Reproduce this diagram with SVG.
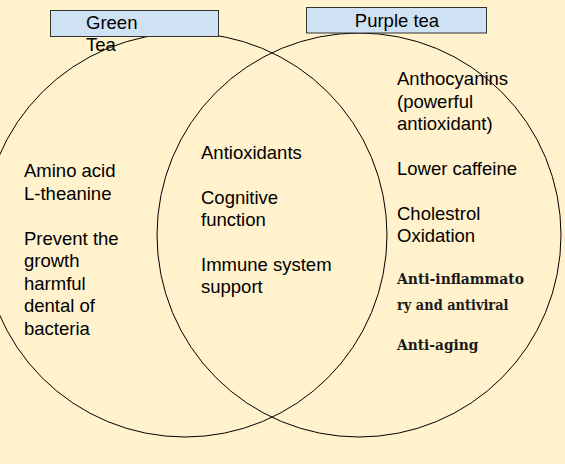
<svg xmlns="http://www.w3.org/2000/svg" width="565" height="468" viewBox="0 0 565 468">
<style>
.t{font-family:"Liberation Sans",Arial,sans-serif;font-size:18.5px;fill:#000}
.b{font-family:"DejaVu Serif","Liberation Serif",serif;font-size:14.5px;font-weight:bold;fill:#1a1a1a}
.c{fill:none;stroke:#000;stroke-width:1}
.box{fill:#cfe2f3;stroke:#333;stroke-width:1}
</style>
<rect x="0" y="0" width="565" height="468" fill="#ffffff"/>
<rect x="0" y="0" width="565" height="464" fill="#fff2cc"/>
<g id="connectors"></g>
<g id="green-circle"><circle class="c" cx="185" cy="235" r="202"/></g>
<g id="purple-circle"><circle class="c" cx="359" cy="235" r="202"/></g>
<g id="green-label">
<rect class="box" x="50.5" y="10.5" width="168" height="26"/>
<text class="t" x="86" y="29">Green</text>
<text class="t" x="86" y="51">Tea</text>
</g>
<g id="purple-label">
<rect class="box" x="306.5" y="7.5" width="180" height="25.5"/>
<text class="t" x="397" y="27" text-anchor="middle">Purple tea</text>
</g>
<g id="green-only">
<text class="t" x="24" y="177">Amino acid</text>
<text class="t" x="24" y="200">L-theanine</text>
<text class="t" x="24" y="245">Prevent the</text>
<text class="t" x="24" y="267">growth</text>
<text class="t" x="24" y="289.5">harmful</text>
<text class="t" x="24" y="312">dental of</text>
<text class="t" x="24" y="335">bacteria</text>
</g>
<g id="both">
<text class="t" x="201" y="158.5">Antioxidants</text>
<text class="t" x="201" y="203.5">Cognitive</text>
<text class="t" x="201" y="226">function</text>
<text class="t" x="201" y="271">Immune system</text>
<text class="t" x="201" y="293">support</text>
</g>
<g id="purple-only">
<text class="t" x="397" y="85">Anthocyanins</text>
<text class="t" x="397" y="107.5">(powerful</text>
<text class="t" x="397" y="130">antioxidant)</text>
<text class="t" x="397" y="175">Lower caffeine</text>
<text class="t" x="397" y="220">Cholestrol</text>
<text class="t" x="397" y="242">Oxidation</text>
<text class="b" x="397" y="283.5" textLength="127" lengthAdjust="spacingAndGlyphs">Anti-inflammato</text>
<text class="b" x="397" y="309.5" textLength="111.5" lengthAdjust="spacingAndGlyphs">ry and antiviral</text>
<text class="b" x="397" y="349.5" textLength="81.5" lengthAdjust="spacingAndGlyphs">Anti-aging</text>
</g>
</svg>
